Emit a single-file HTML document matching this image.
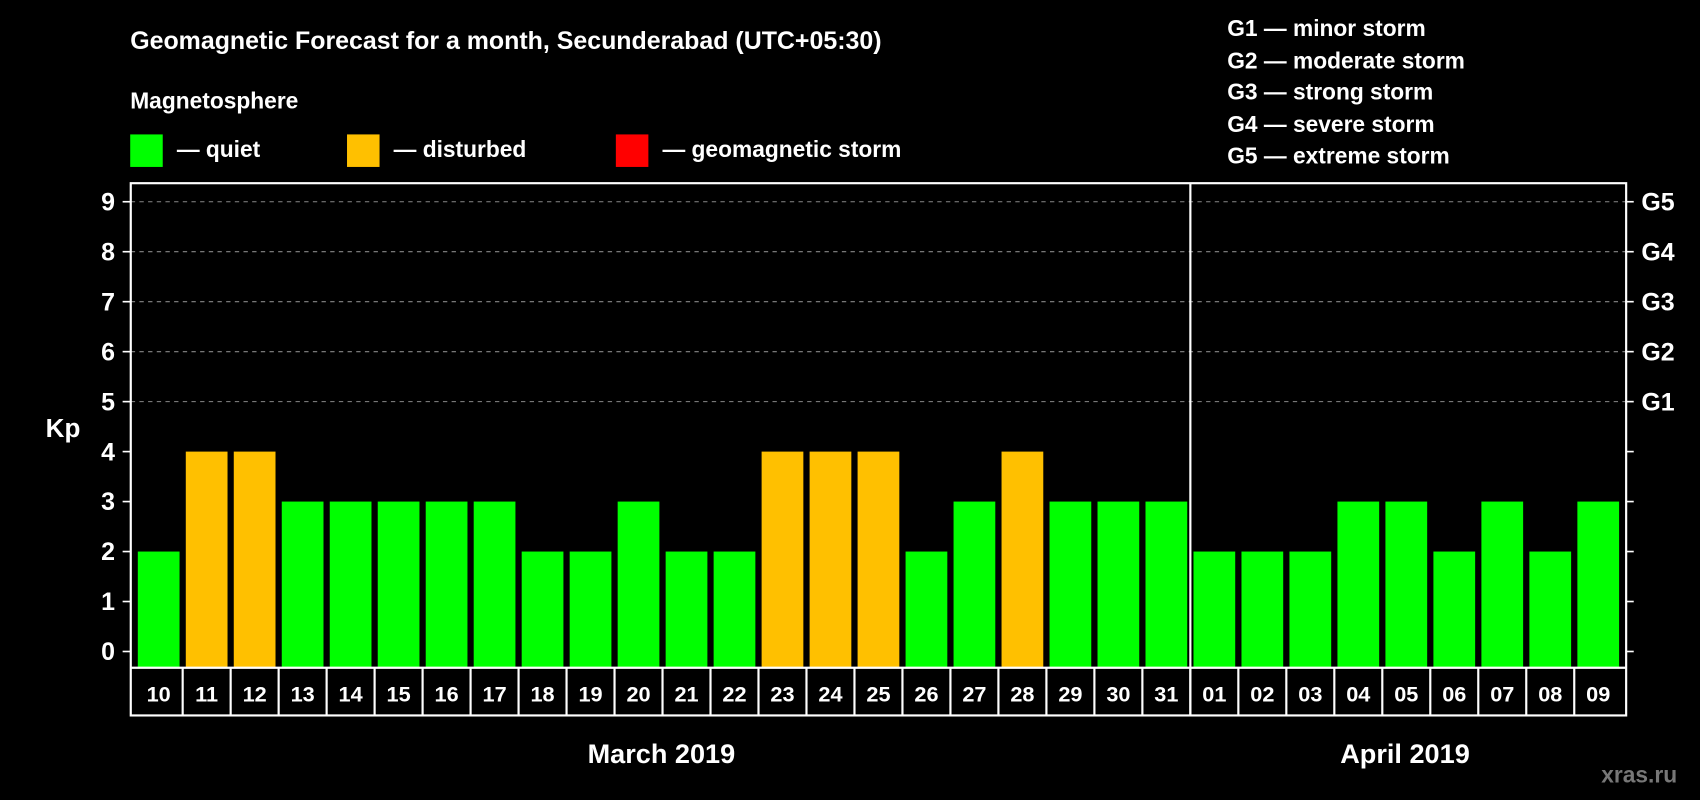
<!DOCTYPE html>
<html><head><meta charset="utf-8"><style>
html,body{margin:0;padding:0;background:#000;}
svg{display:block;font-family:"Liberation Sans",Arial,sans-serif;font-weight:bold;}
</style></head><body>
<svg id="chart" width="1700" height="800" viewBox="0 0 1568 738" xmlns="http://www.w3.org/2000/svg">
<rect x="0" y="0" width="1568" height="738" fill="#000"/>
<text x="120" y="45" fill="#fff" font-size="23">Geomagnetic Forecast for a month, Secunderabad (UTC+05:30)</text>
<text x="120" y="100" fill="#fff" font-size="21">Magnetosphere</text>
<g><rect x="120" y="124" width="30" height="30" fill="#00ff00"/><text x="163" y="145" fill="#fff" font-size="21">— quiet</text></g>
<g><rect x="320" y="124" width="30" height="30" fill="#ffc000"/><text x="363" y="145" fill="#fff" font-size="21">— disturbed</text></g>
<g><rect x="568" y="124" width="30" height="30" fill="#ff0000"/><text x="611" y="145" fill="#fff" font-size="21">— geomagnetic storm</text></g>
<g fill="#fff" font-size="21">
<text x="1132" y="33">G1 — minor storm</text>
<text x="1132" y="63">G2 — moderate storm</text>
<text x="1132" y="92">G3 — strong storm</text>
<text x="1132" y="122">G4 — severe storm</text>
<text x="1132" y="151">G5 — extreme storm</text>
</g>
<text x="58" y="403" fill="#fff" font-size="24" text-anchor="middle">Kp</text>
<g id="grid"></g><g id="bars"></g><g id="axes"></g>
<text x="610" y="704" fill="#fff" font-size="25" text-anchor="middle">March 2019</text>
<text x="1296" y="704" fill="#fff" font-size="25" text-anchor="middle">April 2019</text>
<text x="1512" y="722" fill="#777" font-size="21" text-anchor="middle">xras.ru</text>
</svg>
<script>
const days=["10","11","12","13","14","15","16","17","18","19","20","21","22","23","24","25","26","27","28","29","30","31","01","02","03","04","05","06","07","08","09"];
const kp=[2,4,4,3,3,3,3,3,2,2,3,2,2,4,4,4,2,3,4,3,3,3,2,2,2,3,3,2,3,2,3];
const yTicks=[0,1,2,3,4,5,6,7,8,9];
const gLabels=["G1","G2","G3","G4","G5"];
const gLevels=[5,6,7,8,9];
const NS="http://www.w3.org/2000/svg";
const L=120.5,R=1500,T=169,B=616,lblB=660;
const y=v=>601-v*46.1;
const step=(1455-127)/30, bw=38.5;
const x=i=>127+i*step;
function mk(t,a,p){const e=document.createElementNS(NS,t);for(const k in a)e.setAttribute(k,a[k]);p.appendChild(e);return e;}
const grid=document.getElementById('grid'),bars=document.getElementById('bars'),axes=document.getElementById('axes');
gLevels.forEach(v=>{
 const l=mk('line',{x1:L,x2:R,y1:y(v),y2:y(v),stroke:'#888','stroke-dasharray':'4,4','stroke-width':1},grid);
 
 
});
kp.forEach((v,i)=>{
 const c=v>=5?'#ff0000':(v>=4?'#ffc000':'#00ff00');
 const r=mk('rect',{x:x(i),y:y(v),width:bw,height:y(0)-y(v)+15,fill:c},bars);
 
 
 const t=mk('text',{x:x(i)+bw/2,y:647,fill:'#fff','font-size':20,'text-anchor':'middle'},axes);
 t.textContent=days[i];
 
 
 if(i>0){const s=mk('line',{x1:x(i)-(step-bw)/2,x2:x(i)-(step-bw)/2,y1:B,y2:lblB,stroke:'#fff','stroke-width':2},axes);
 
 }
});
const fr=mk('rect',{x:L,y:T,width:R-L,height:lblB-T,fill:'none',stroke:'#fff','stroke-width':2},axes);


const bl=mk('line',{x1:L,x2:R,y1:B,y2:B,stroke:'#fff','stroke-width':2},axes);


const mx=x(22)-(step-bw)/2;
const ml=mk('line',{x1:mx,x2:mx,y1:T,y2:lblB,stroke:'#fff','stroke-width':2},axes);


yTicks.forEach(v=>{
 const t=mk('text',{x:106,y:y(v)+8,fill:'#fff','font-size':23,'text-anchor':'end'},axes);
 t.textContent=v;
 
 
 const a=mk('line',{x1:113,x2:L,y1:y(v),y2:y(v),stroke:'#fff','stroke-width':1.5},axes);
 
 
 const b=mk('line',{x1:R,x2:R+7,y1:y(v),y2:y(v),stroke:'#fff','stroke-width':1.5},axes);
 
 
});
gLabels.forEach((g,i)=>{
 const t=mk('text',{x:1514,y:y(gLevels[i])+8,fill:'#fff','font-size':23},axes);
 t.textContent=g;
 
 
});
</script>
</body></html>
